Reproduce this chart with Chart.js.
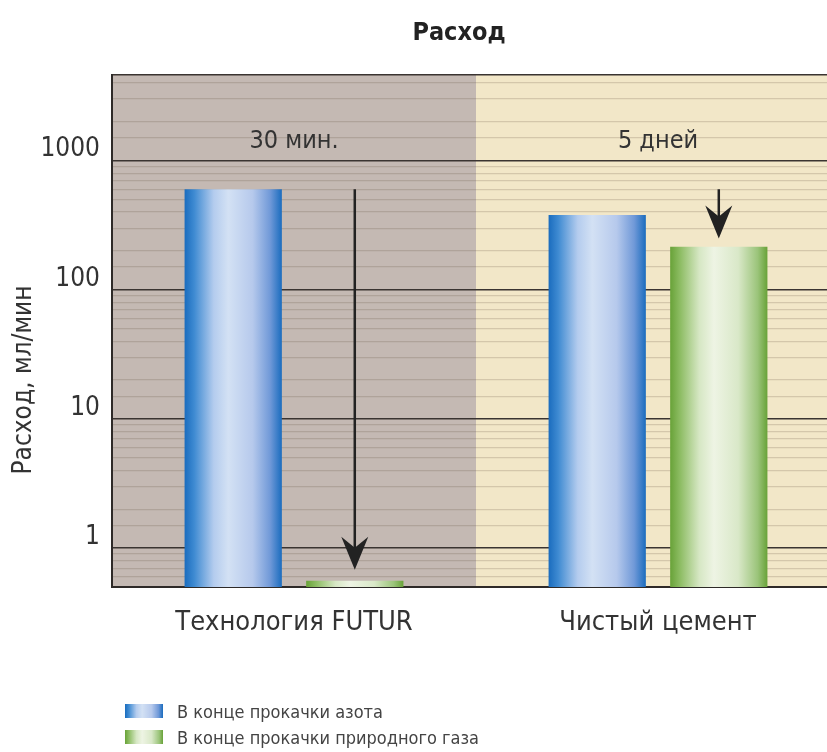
<!DOCTYPE html>
<html>
<head>
<meta charset="utf-8">
<script src="https://cdn.jsdelivr.net/npm/chart.js@4.4.0/dist/chart.umd.min.js"></script>
<style>
  html, body { margin: 0; padding: 0; background: #fff; }
  #wrap { position: relative; width: 827px; height: 752px; overflow: hidden; }
  #legend {
    position: absolute; left: 125px; top: 698px;
    font: 18px 'Liberation Sans Narrow', 'DejaVu Sans Condensed', sans-serif; color: #444;
  }
  .item { display: flex; align-items: center; height: 26px; }
  .sw { width: 38px; height: 14px; margin-right: 14px; }
</style>
</head>
<body>
<div id="wrap">
  <!-- plot runs a little past the right edge, as in the reference crop -->
  <canvas id="flow-chart" width="840" height="752"></canvas>
  <div id="legend"></div>
</div>
<script>
// Data (log scale, ml/min)
const categories = ['Технология FUTUR', 'Чистый цемент'];
const seriesNames = ['В конце прокачки азота', 'В конце прокачки природного газа'];
const nitrogenFlow = [600, 380];
const gasFlow = [0.56, 215];
const periodLabels = ['30 мин.', '5 дней'];
const periodLabelValue = 1400;
const arrowStart = [600, 600];
const arrowEnd = [0.68, 250];
const yMin = 0.5;
const yMax = 4600;

const FONT = "'Liberation Sans Narrow', 'DejaVu Sans Condensed', sans-serif";
const CAT_PCT = 0.668;
const BAR_PCT = 0.8;

const blueStops = [[0, '#1a6cbe'], [0.1, '#3f8bd2'], [0.3, '#b4ccee'], [0.45, '#d3e1f4'],
                   [0.7, '#b6c9ec'], [0.88, '#7099d8'], [1, '#1a6cbe']];
const greenStops = [[0, '#68a238'], [0.1, '#8cbc62'], [0.3, '#d6e7c4'], [0.45, '#eef4e4'],
                    [0.7, '#d9e8c8'], [0.9, '#9bc47a'], [1, '#68a238']];
const palette = [blueStops, greenStops];

function barGradient(context, datasetIndex) {
    const stops = palette[datasetIndex];
    const chart = context.chart;
    const x = chart.scales.x;
    if (context.dataIndex === undefined || !x || !chart.chartArea) return stops[3][1];
    const slot = (x.width / categories.length) * CAT_PCT / 2;
    const w = slot * BAR_PCT;
    const cx = x.getPixelForValue(context.dataIndex) + (datasetIndex - 0.5) * slot;
    const g = chart.ctx.createLinearGradient(cx - w / 2, 0, cx + w / 2, 0);
    stops.forEach(s => g.addColorStop(s[0], s[1]));
    return g;
}

const isMajor = v => Math.abs(Math.log10(v) - Math.round(Math.log10(v))) < 1e-9;

// backgrounds, arrows, annotations and titles
const decorPlugin = {
    id: 'decor',
    beforeDraw(chart) {
        const { ctx, chartArea: a, scales: { x } } = chart;
        const mid = (x.getPixelForValue(0) + x.getPixelForValue(1)) / 2;
        ctx.save();
        ctx.fillStyle = '#c4b9b3';
        ctx.fillRect(a.left, a.top, mid - a.left, a.bottom - a.top);
        ctx.fillStyle = '#f2e7c8';
        ctx.fillRect(mid, a.top, a.right - mid, a.bottom - a.top);
        ctx.restore();
    },
    afterDatasetsDraw(chart) {
        const { ctx, scales: { x, y } } = chart;
        const gasMeta = chart.getDatasetMeta(1);
        ctx.save();
        // period labels
        ctx.fillStyle = '#333';
        ctx.font = '25px ' + FONT;
        ctx.textAlign = 'center';
        ctx.textBaseline = 'middle';
        periodLabels.forEach((t, i) => ctx.fillText(t, x.getPixelForValue(i), y.getPixelForValue(periodLabelValue)));
        // arrows above the gas bars
        ctx.strokeStyle = '#222';
        ctx.fillStyle = '#222';
        ctx.lineWidth = 2.5;
        arrowStart.forEach((v, i) => {
            const ax = gasMeta.data[i].x;
            const y0 = y.getPixelForValue(v);
            const y1 = y.getPixelForValue(arrowEnd[i]);
            ctx.beginPath();
            ctx.moveTo(ax, y0);
            ctx.lineTo(ax, y1 - 20);
            ctx.stroke();
            ctx.beginPath();
            ctx.moveTo(ax, y1);
            ctx.lineTo(ax - 13.5, y1 - 33);
            ctx.lineTo(ax, y1 - 22);
            ctx.lineTo(ax + 13.5, y1 - 33);
            ctx.closePath();
            ctx.fill();
        });
        ctx.restore();
    },
    afterDraw(chart) {
        const { ctx } = chart;
        ctx.save();
        ctx.fillStyle = '#222';
        ctx.textAlign = 'center';
        ctx.textBaseline = 'middle';
        ctx.font = 'bold 25px ' + FONT;
        ctx.fillText('Расход', 459, 33);
        ctx.fillStyle = '#333';
        ctx.font = '26px ' + FONT;
        ctx.translate(24, 380);
        ctx.rotate(-Math.PI / 2);
        ctx.fillText('Расход, мл/мин', 0, 0);
        ctx.restore();
    }
};

function buildLegend() {
    const el = document.getElementById('legend');
    seriesNames.forEach((name, i) => {
        const grad = palette[i].map(s => s[1] + ' ' + (s[0] * 100) + '%').join(', ');
        const item = document.createElement('div');
        item.className = 'item';
        item.innerHTML = '<span class="sw" style="background:linear-gradient(to right, ' + grad + ')"></span>' + name;
        el.appendChild(item);
    });
}

const ctx = document.getElementById('flow-chart').getContext('2d');

new Chart(ctx, {
    type: 'bar',
    data: {
        labels: categories,
        datasets: [{
            label: seriesNames[0],
            data: nitrogenFlow,
            backgroundColor: c => barGradient(c, 0),
            borderWidth: 0,
        }, {
            label: seriesNames[1],
            data: gasFlow,
            backgroundColor: c => barGradient(c, 1),
            borderWidth: 0,
        }],
    },
    options: {
        responsive: false,
        animation: false,
        layout: { padding: { left: 12, right: 0, top: 75, bottom: 85 } },
        datasets: { bar: { categoryPercentage: CAT_PCT, barPercentage: BAR_PCT } },
        plugins: {
            legend: { display: false },
            title: { display: false },
            tooltip: { enabled: false },
        },
        scales: {
            x: {
                grid: { display: false, drawTicks: false },
                border: { display: true, color: '#2e2a28', width: 2 },
                ticks: { color: '#333', font: { family: FONT, size: 27 }, padding: 20 },
                afterFit: s => { s.height = 80; },
            },
            y: {
                type: 'logarithmic',
                min: yMin,
                max: yMax,
                border: { display: true, color: '#2e2a28', width: 2 },
                grid: {
                    drawTicks: false,
                    color: c => (isMajor(c.tick.value) || c.tick.value === yMax) ? '#3a3431' : 'rgba(95,75,55,0.2)',
                    lineWidth: c => (isMajor(c.tick.value) || c.tick.value === yMax) ? 1.6 : 1.2,
                },
                ticks: {
                    color: '#333',
                    font: { family: FONT, size: 26 },
                    padding: 12,
                    labelOffset: -11,
                    autoSkip: false,
                    callback: v => isMajor(v) ? String(Math.round(v)) : '',
                },
                afterFit: s => { s.width = 100; },
            },
        },
    },
    plugins: [decorPlugin],
});

buildLegend();
</script>
</body>
</html>
